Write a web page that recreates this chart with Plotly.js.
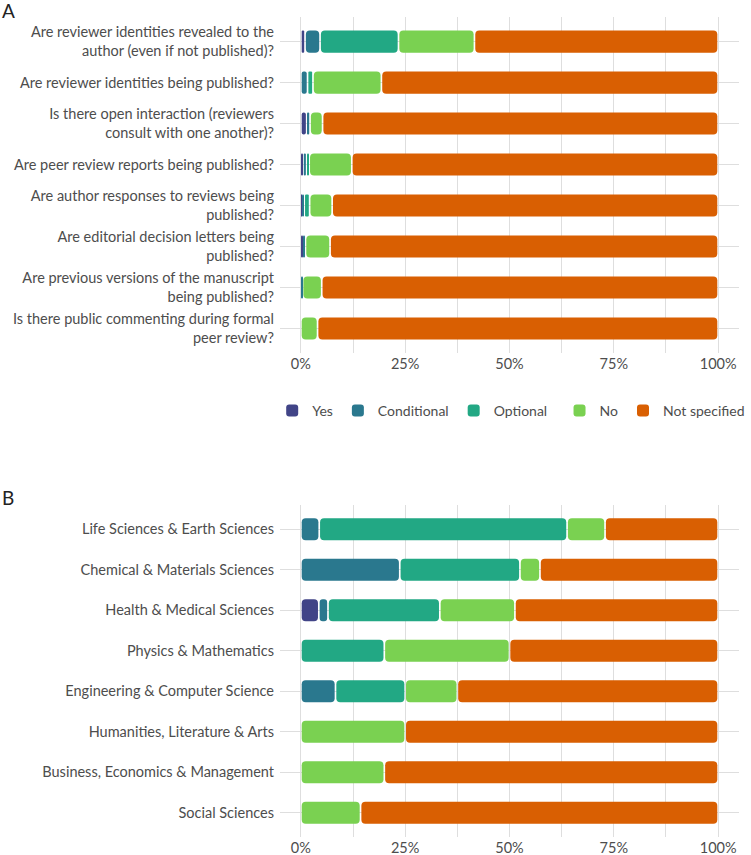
<!DOCTYPE html>
<html>
<head>
<meta charset="utf-8">
<script src="https://cdn.plot.ly/plotly-3.0.1.min.js"></script>
<style>
  html, body { margin: 0; padding: 0; background: #ffffff; }
  #chart { width: 751px; height: 855px; }
</style>
</head>
<body>
<div id="chart"></div>
<script>
// ---------- DATA ----------
const responseCategories = ['Yes', 'Conditional', 'Optional', 'No', 'Not specified'];

const questionsA = [
  'Are reviewer identities revealed to the<br>author (even if not published)?',
  'Are reviewer identities being published?',
  'Is there open interaction (reviewers<br>consult with one another)?',
  'Are peer review reports being published?',
  'Are author responses to reviews being<br>published?',
  'Are editorial decision letters being<br>published?',
  'Are previous versions of the manuscript<br>being published?',
  'Is there public commenting during formal<br>peer review?'
];
const yesA          = [1.0, 0.0, 1.4, 0.5, 0.3, 0.4, 0.0, 0.0];
const conditionalA  = [3.6, 1.6, 0.8, 0.9, 0.5, 0.7, 0.4, 0.0];
const optionalA     = [18.8, 1.3, 0.0, 0.6, 1.3, 0.0, 0.0, 0.0];
const noA           = [18.2, 16.4, 3.0, 10.2, 5.4, 5.9, 4.6, 4.0];
const notSpecifiedA = [58.4, 80.7, 94.8, 87.8, 92.5, 93.0, 95.0, 96.0];

const fieldsB = [
  'Life Sciences & Earth Sciences',
  'Chemical & Materials Sciences',
  'Health & Medical Sciences',
  'Physics & Mathematics',
  'Engineering & Computer Science',
  'Humanities, Literature & Arts',
  'Business, Economics & Management',
  'Social Sciences'
];
const yesB          = [0.0, 0.0, 4.3, 0.0, 0.0, 0.0, 0.0, 0.0];
const conditionalB  = [4.4, 23.7, 2.2, 0.0, 8.3, 0.0, 0.0, 0.0];
const optionalB     = [59.4, 28.8, 26.8, 20.0, 16.7, 0.0, 0.0, 0.0];
const noB           = [9.1, 4.8, 18.0, 30.0, 12.5, 25.0, 20.0, 14.3];
const notSpecifiedB = [27.1, 42.7, 48.7, 50.0, 62.5, 75.0, 80.0, 85.7];

const tickValues = [0, 25, 50, 75, 100];
const tickLabels = ['0%', '25%', '50%', '75%', '100%'];

// ---------- STYLE ----------
const colors = ['#414487', '#2A788E', '#22A884', '#7AD151', '#D95F02'];
const legendOf = ['legend', 'legend', 'legend', 'legend2', 'legend2'];
const FONT = 'Lato, "Open Sans", sans-serif';
const TEXT = '#4D4D4D';
const GRID = '#DEDEDE';
const GAP = 0.2;        // visual separation at each segment end (axis units)
const RADIUS = 4;

// One bar per segment, placed with an explicit base so all corners are rounded.
function buildTraces(cats, seriesList, xa, ya, showLegend) {
  const traces = [];
  const cum = cats.map(() => 0);
  seriesList.forEach((vals, k) => {
    const bases = [], lens = [];
    vals.forEach((v, i) => {
      const start = cum[i];
      cum[i] += v;
      if (v > 0) {
        const inset = Math.min(GAP, v * 0.28);
        bases.push(start + inset);
        lens.push(v - 2 * inset);
      } else {
        bases.push(start + GAP);
        lens.push(0);
      }
    });
    traces.push({
      type: 'bar', orientation: 'h', y: cats, x: lens, base: bases,
      xaxis: xa, yaxis: ya,
      marker: { color: colors[k], cornerradius: RADIUS, line: { width: 0 } },
      name: responseCategories[k], legendgroup: responseCategories[k],
      legend: legendOf[k],
      showlegend: showLegend, hoverinfo: 'skip'
    });
  });
  return traces;
}

const data = []
  .concat(buildTraces(questionsA, [yesA, conditionalA, optionalA, noA, notSpecifiedA], 'x', 'y', true))
  .concat(buildTraces(fieldsB, [yesB, conditionalB, optionalB, noB, notSpecifiedB], 'x2', 'y2', false));

const xCommon = {
  range: [-5, 105],
  tickvals: tickValues, ticktext: tickLabels,
  showgrid: true, gridcolor: GRID, gridwidth: 1,
  minor: { dtick: 12.5, showgrid: true, gridcolor: GRID, gridwidth: 1 },
  zeroline: false, showline: false, ticks: '',
  tickfont: { family: FONT, size: 14.5, color: TEXT },
  fixedrange: true
};
const yCommon = {
  type: 'category',
  range: [7.6, -0.6],
  showgrid: true, gridcolor: GRID, gridwidth: 1,
  zeroline: false, showline: false, ticks: '',
  ticklabelstandoff: 5,
  tickfont: { family: FONT, size: 14.5, color: TEXT },
  fixedrange: true
};

const legendCommon = {
  orientation: 'h', xref: 'paper', yref: 'paper', xanchor: 'left',
  y: 0.5195, yanchor: 'middle',
  font: { family: FONT, size: 14, color: TEXT },
  itemwidth: 30, traceorder: 'normal', bgcolor: 'rgba(0,0,0,0)'
};

const layout = {
  width: 751, height: 855,
  margin: { l: 280, r: 12, t: 17, b: 18, autoexpand: false },
  paper_bgcolor: '#ffffff', plot_bgcolor: '#ffffff',
  barmode: 'overlay', bargap: 0.46,
  font: { family: FONT, size: 14.5, color: TEXT },
  xaxis: Object.assign({}, xCommon, { anchor: 'y' }),
  yaxis: Object.assign({}, yCommon, { domain: [0.5902, 1], anchor: 'x' }),
  xaxis2: Object.assign({}, xCommon, { anchor: 'y2' }),
  yaxis2: Object.assign({}, yCommon, { domain: [0, 0.4049], anchor: 'x2' }),
  showlegend: true,
  legend: Object.assign({}, legendCommon, { x: -0.017 }),
  legend2: Object.assign({}, legendCommon, { x: 0.609 }),
  annotations: [
    { text: 'A', xref: 'paper', yref: 'paper', x: -0.61, y: 1.0085, xanchor: 'left', yanchor: 'middle',
      showarrow: false, font: { family: FONT, size: 19, color: '#222222' } },
    { text: 'B', xref: 'paper', yref: 'paper', x: -0.61, y: 0.4146, xanchor: 'left', yanchor: 'middle',
      showarrow: false, font: { family: FONT, size: 19, color: '#222222' } }
  ]
};

Plotly.newPlot('chart', data, layout, { displayModeBar: false, responsive: false });
</script>
</body>
</html>
